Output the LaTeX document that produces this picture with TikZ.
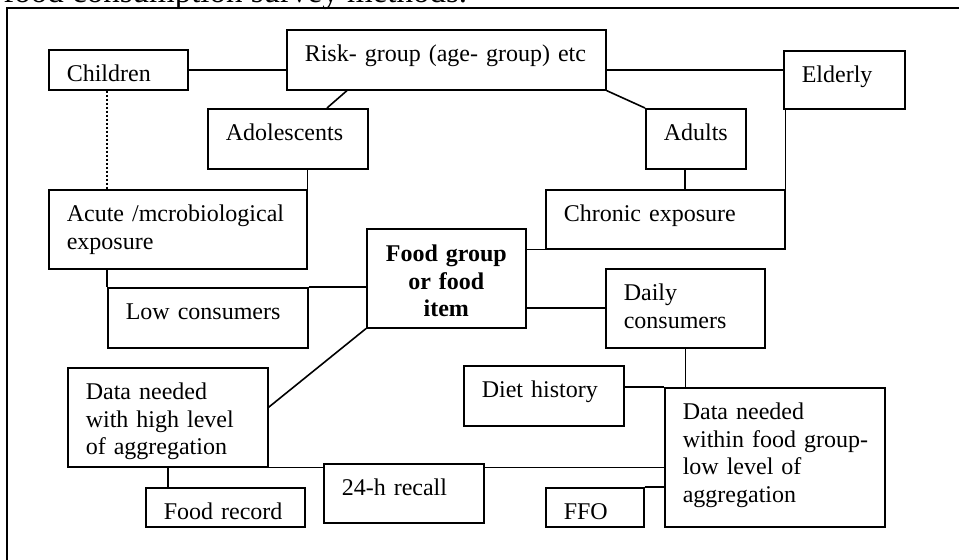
\documentclass[tikz,border=0pt]{standalone}
\usepackage{fontspec}
\setmainfont{Liberation Serif}
\usetikzlibrary{calc}
\pgfdeclarelayer{background}
\pgfsetlayers{background,main}
\begin{document}
\begin{tikzpicture}[x=0.5pt,y=-0.5pt,
  box/.style={draw, line width=0.8pt, fill=white, rectangle, anchor=north west,
    inner xsep=9pt, inner ysep=0pt, align=left, text height=16pt,
    font=\fontsize{12}{13.75}\selectfont},
  conn/.style={line width=0.8pt},
  frame/.style={line width=0.8pt}]
\useasboundingbox (0,0) rectangle (959,560);
\draw[frame] (7,640) -- (7,8) -- (990,8);
\node[anchor=base west, inner sep=0pt, font=\fontsize{16.5}{18}\selectfont] (caption) at (3,3) {food consumption survey methods.};

\node[box, text width=51.5pt, text depth=4pt] (children) at (48,49) {Children};
\node[box, text width=141.5pt, text depth=14pt] (risk) at (286,29) {Risk- group (age- group) etc};
\node[box, text width=42.5pt, text depth=13pt] (elderly) at (783,50) {Elderly};
\node[box, text width=62pt, text depth=14pt] (adolescents) at (207,108) {Adolescents};
\node[box, text width=32pt, text depth=14pt] (adults) at (645,108) {Adults};
\node[box, text width=111pt, text depth=23.5pt] (acute) at (48,189) {Acute /mcrobiological\\exposure};
\node[box, text width=101.5pt, text depth=13.5pt] (chronic) at (545,189) {Chronic exposure};
\node[box, text width=61.5pt, text height=16.5pt, text depth=33pt, align=center, font=\fontsize{12}{13.75}\selectfont\bfseries] (food) at (366,228) {Food group\\or food\\item};
\node[box, text width=61.5pt, text depth=23.5pt] (daily) at (605,268) {Daily\\consumers};
\node[box, text width=82pt, text depth=14pt] (low) at (107,287) {Low consumers};
\node[box, text width=82pt, text depth=33.5pt] (datahigh) at (67,367) {Data needed\\with high level\\of aggregation};
\node[box, text width=62pt, text depth=14pt] (diet) at (463,365) {Diet history};
\node[box, text width=92pt, text depth=53.5pt] (datalow) at (664,387) {Data needed\\\mbox{within food group-}\\low level of\\aggregation};
\node[box, text width=61.5pt, text depth=3.5pt] (foodrec) at (145,487) {Food record};
\node[box, text width=62pt, text depth=13.5pt] (recall) at (323,463) {24-h recall};
\node[box, text width=31pt, text depth=3.5pt] (ffo) at (545,487) {FFO};

\coordinate (cd) at ($(children.south west)+(59,0)$);
\coordinate (ac) at ($(adults.south west)+(40,0)$);
\coordinate (ra) at ($(risk.south west)+(61,0)$);
\coordinate (ad) at ($(adolescents.north west)+(120,0)$);
\coordinate (dh) at ($(datahigh.east)+(0,-10)$);

\begin{pgfonlayer}{background}
\draw[conn] (children.east) -- (children.east -| risk.west);
\draw[conn] (children.east -| risk.east) -- (children.east -| elderly.west);
\draw[conn] (ra) -- (ad);
\draw[conn] (risk.south east) -- (adults.north west);
\draw[line width=1pt, dash pattern=on 1pt off 1pt] (cd) -- (cd |- acute.north);
\draw[conn] (acute.north east) -- (acute.north east |- adolescents.south);
\draw[conn] (ac) -- (ac |- chronic.north);
\draw[conn] (chronic.north east) -- (chronic.north east |- elderly.south);
\draw[conn] (low.north west) -- (low.north west |- acute.south);
\draw[conn] (low.north east) -- (low.north east -| food.west);
\draw[conn] (chronic.south west) -- (chronic.south west -| food.east);
\draw[conn] (daily.west) -- (daily.west -| food.east);
\draw[conn] (food.south west) -- (dh);
\draw[conn] (datahigh.south) -- (datahigh.south |- foodrec.north);
\draw[conn] (datahigh.south east) -- (datahigh.south east -| datalow.west);
\draw[conn] (daily.south) -- (daily.south |- datalow.north);
\draw[conn] (datalow.north west) -- (datalow.north west -| diet.east);
\draw[conn] (ffo.north east) -- (ffo.north east -| datalow.west);
\end{pgfonlayer}
\end{tikzpicture}
\end{document}
